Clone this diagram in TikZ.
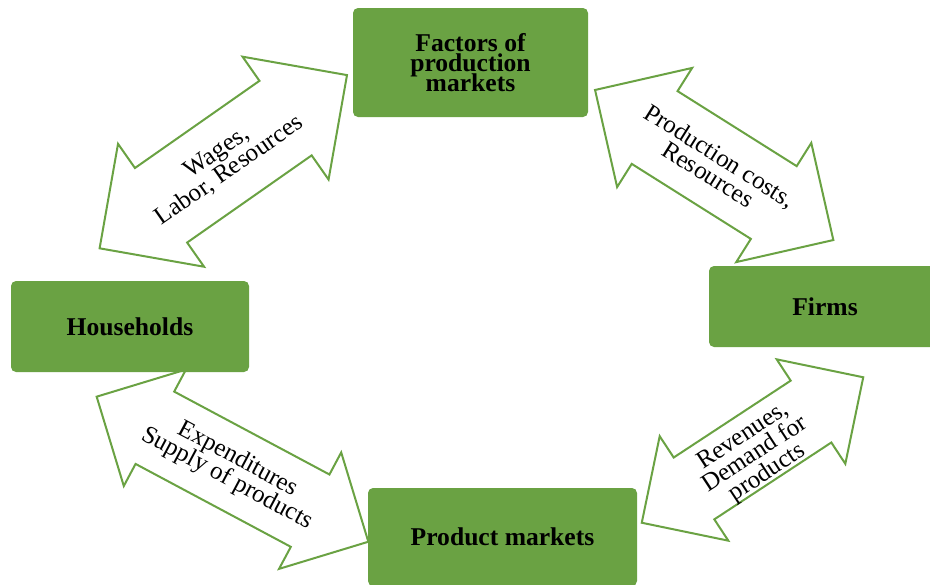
\documentclass[tikz,border=0pt]{standalone}
\usepackage{fontspec}
\setmainfont{Liberation Serif}
\usepackage{tikz}
\definecolor{leaf1} {RGB} {106, 162, 67}
\usetikzlibrary{shapes.arrows}
\usetikzlibrary{calc,backgrounds}
\newcommand{\tightlines}{\setlength{\lineskiplimit}{-20pt}}
\tikzstyle{flow}=[
  x=0.5pt, y=-0.5pt, font=\fontsize{12.5}{11}\selectfont\tightlines
]
\tikzstyle{flowbox}=[
  fill=leaf1, rounded corners=2.5pt, inner sep=0pt, align=center,
  font=\fontsize{12.8}{10}\selectfont\bfseries\tightlines
]
\tikzstyle{flowarrow}=[
  double arrow, draw=leaf1, fill=white, line width=1pt, inner xsep=0pt,
  double arrow tip angle=90
]
\tikzstyle{flowtext}=[
  align=center, inner sep=0pt
]

\begin{document}
\begin{tikzpicture}[flow]
\useasboundingbox (0,0) rectangle (930,584);
\node (fpm) [flowbox, minimum width=117.5pt, minimum height=54.5pt] at (470.5, 62.5) {Factors of\\production\\markets};
\node (firms) [flowbox, minimum width=116pt, minimum height=40.5pt] at ($(fpm) + (354.5, 244)$) {Firms};
\node (hh) [flowbox, minimum width=119pt, minimum height=45.5pt] at ($(fpm) + (-340.5, 264)$) {Households};
\node (pm) [flowbox, minimum width=134.5pt, minimum height=49pt] at ($(fpm) + (32, 474.5)$) {Product markets};

\begin{scope}[on background layer]
\node (wages) [flowarrow, rotate=35, minimum height=151pt, inner ysep=22.25pt,
    double arrow head extend=14.75pt] at ($(fpm) + (-247.2, 99.2)$) {};
\node (costs) [flowarrow, rotate=-32.2, minimum height=140.8pt, inner ysep=21pt,
    double arrow head extend=13.7pt] at ($(fpm) + (243.7, 102.5)$) {};
\node (spend) [flowarrow, rotate=-28.1, minimum height=154pt, inner ysep=20pt,
    double arrow head extend=12.5pt] at ($(hh) + (102.5, 142.7)$) {};
\node (revenue) [flowarrow, rotate=33.3, minimum height=132.5pt, inner ysep=18pt,
    double arrow head extend=12.75pt] at ($(firms) + (-72.5, 143.5)$) {};
\end{scope}

\node (wages text) [flowtext, rotate=35] at (wages) {Wages,\\Labor, Resources};
\node (costs text) [flowtext, rotate=-32.2] at (costs) {Production costs,\\Resources};
\node (spend text) [flowtext, rotate=-28.1] at (spend) {Expenditures\\Supply of products};
\node (revenue text) [flowtext, rotate=33.3] at ($(revenue) + (3, 5)$) {Revenues,\\Demand for\\products};
\end{tikzpicture}
\end{document}
